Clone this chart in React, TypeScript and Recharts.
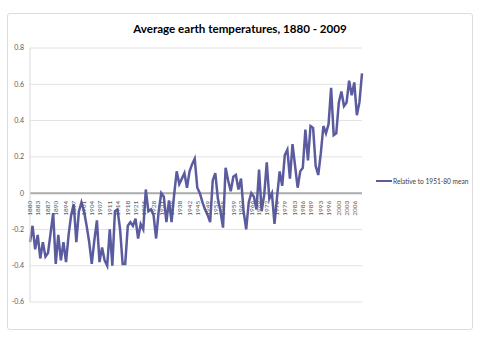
import { LineChart, Line, XAxis, YAxis, CartesianGrid, ReferenceLine, Legend } from 'recharts';

const FIRST_YEAR = 1880;

// yearly anomaly (°C) relative to the 1951-80 mean
const anomalies = [
  -0.27, -0.18, -0.31, -0.23, -0.36, -0.27, -0.35, -0.33, -0.22, -0.11, // 1880s
  -0.39, -0.23, -0.37, -0.27, -0.38, -0.23, -0.12, -0.06, -0.27, -0.1, // 1890s
  -0.05, -0.1, -0.18, -0.27, -0.39, -0.26, -0.15, -0.38, -0.3, -0.37, // 1900s
  -0.4, -0.2, -0.4, -0.1, -0.09, -0.2, -0.39, -0.39, -0.18, -0.16, // 1910s
  -0.18, -0.14, -0.25, -0.17, -0.2, 0.02, -0.1, -0.09, -0.12, -0.25, // 1920s
  -0.1, 0.0, -0.02, -0.16, -0.04, -0.16, -0.01, 0.12, 0.05, 0.08, // 1930s
  0.11, 0.03, 0.12, 0.16, 0.19, 0.03, 0.0, -0.05, -0.09, -0.12, // 1940s
  -0.16, 0.07, 0.11, -0.03, -0.1, -0.19, 0.14, 0.07, 0.01, 0.09, // 1950s
  0.1, 0.02, 0.08, -0.1, -0.2, -0.05, 0.0, -0.02, -0.09, 0.13, // 1960s
  -0.1, -0.01, 0.17, -0.03, 0.0, -0.17, -0.02, 0.12, 0.04, 0.21, // 1970s
  0.24, 0.08, 0.27, 0.15, 0.03, 0.12, 0.14, 0.35, 0.18, 0.37, // 1980s
  0.36, 0.15, 0.1, 0.22, 0.37, 0.33, 0.38, 0.58, 0.32, 0.33, // 1990s
  0.5, 0.56, 0.48, 0.5, 0.62, 0.54, 0.61, 0.43, 0.5, 0.66, // 2000s
];

const yearLabels = [
  1880, 1883, 1887, 1890, 1894, 1897, 1901, 1904, 1907, 1911, 1914, 1918, 1921,
  1924, 1928, 1931, 1935, 1938, 1942, 1945, 1949, 1952, 1955, 1959, 1962, 1966,
  1969, 1972, 1976, 1979, 1983, 1986, 1989, 1993, 1996, 2000, 2003, 2006,
];

const yTicks = [-0.6, -0.4, -0.2, 0, 0.2, 0.4, 0.6, 0.8];

const SERIES_NAME = 'Relative to 1951-80 mean';
const LINE_COLOR = '#5b5c9f';
const FONT = 'Lato, "Open Sans", sans-serif';

const WIDTH = 480;
const HEIGHT = 346;
const MARGIN = { top: 48, right: 118, bottom: 35, left: 0 };
const X_AXIS_HEIGHT = 1;
const PLOT_HEIGHT = HEIGHT - MARGIN.top - MARGIN.bottom - X_AXIS_HEIGHT;
// where the category axis crosses (value 0)
const ZERO_Y = MARGIN.top + (PLOT_HEIGHT * 0.8) / 1.4;

const data = anomalies.map((v, i) => ({ year: FIRST_YEAR + i, value: v }));

function YearTick(props: any) {
  const { x, payload } = props;
  return (
    <text
      transform={`translate(${x + 2.3},${ZERO_Y + 3}) rotate(-90)`}
      textAnchor="end"
      fill="#595959"
      style={{ fontFamily: FONT, fontSize: 6.5 }}
    >
      {payload.value}
    </text>
  );
}

function LegendBox() {
  return (
    <div style={{ display: 'flex', alignItems: 'center', fontFamily: FONT, fontSize: 6.6, color: '#404040' }}>
      <div style={{ width: 16, height: 0, borderTop: `2.5px solid ${LINE_COLOR}`, marginRight: 1 }} />
      <span>{SERIES_NAME}</span>
    </div>
  );
}

export default function App() {
  return (
    <div style={{ position: 'absolute', left: 0, top: 0, width: WIDTH, height: HEIGHT, background: '#fff' }}>
      {/* chart frame */}
      <div
        style={{
          position: 'absolute',
          left: 7,
          top: 13,
          width: 464,
          height: 315,
          border: '1px solid #dcdcdc',
          borderRadius: 3,
        }}
      />
      <div
        style={{
          position: 'absolute',
          top: 22,
          left: 0,
          width: WIDTH,
          textAlign: 'center',
          fontFamily: FONT,
          fontWeight: 'bold',
          fontSize: 11.6,
          color: '#000',
        }}
      >
        Average earth temperatures, 1880 - 2009
      </div>
      <LineChart width={WIDTH} height={HEIGHT} data={data} margin={MARGIN} style={{ position: 'absolute', left: 0, top: 0 }}>
        <CartesianGrid vertical={false} stroke="#e2e2e2" />
        <XAxis
          dataKey="year"
          type="number"
          domain={[1880, 2009]}
          ticks={yearLabels}
          interval={0}
          height={X_AXIS_HEIGHT}
          axisLine={false}
          tickLine={false}
          tick={(p: any) => <YearTick {...p} />}
        />
        <YAxis
          domain={[-0.6, 0.8]}
          ticks={yTicks}
          width={30}
          axisLine={{ stroke: '#d9d9d9' }}
          tickLine={false}
          tickSize={0}
          tickMargin={6}
          tick={{ fontSize: 7, fill: '#595959', fontFamily: FONT }}
        />
        <ReferenceLine y={0} stroke="#ababab" strokeWidth={2} />
        <Legend
          content={<LegendBox />}
          wrapperStyle={{ position: 'absolute', left: 376, top: 177, width: 100 }}
        />
        <Line
          type="linear"
          dataKey="value"
          name={SERIES_NAME}
          stroke={LINE_COLOR}
          strokeWidth={2.5}
          dot={false}
          isAnimationActive={false}
        />
      </LineChart>
    </div>
  );
}
